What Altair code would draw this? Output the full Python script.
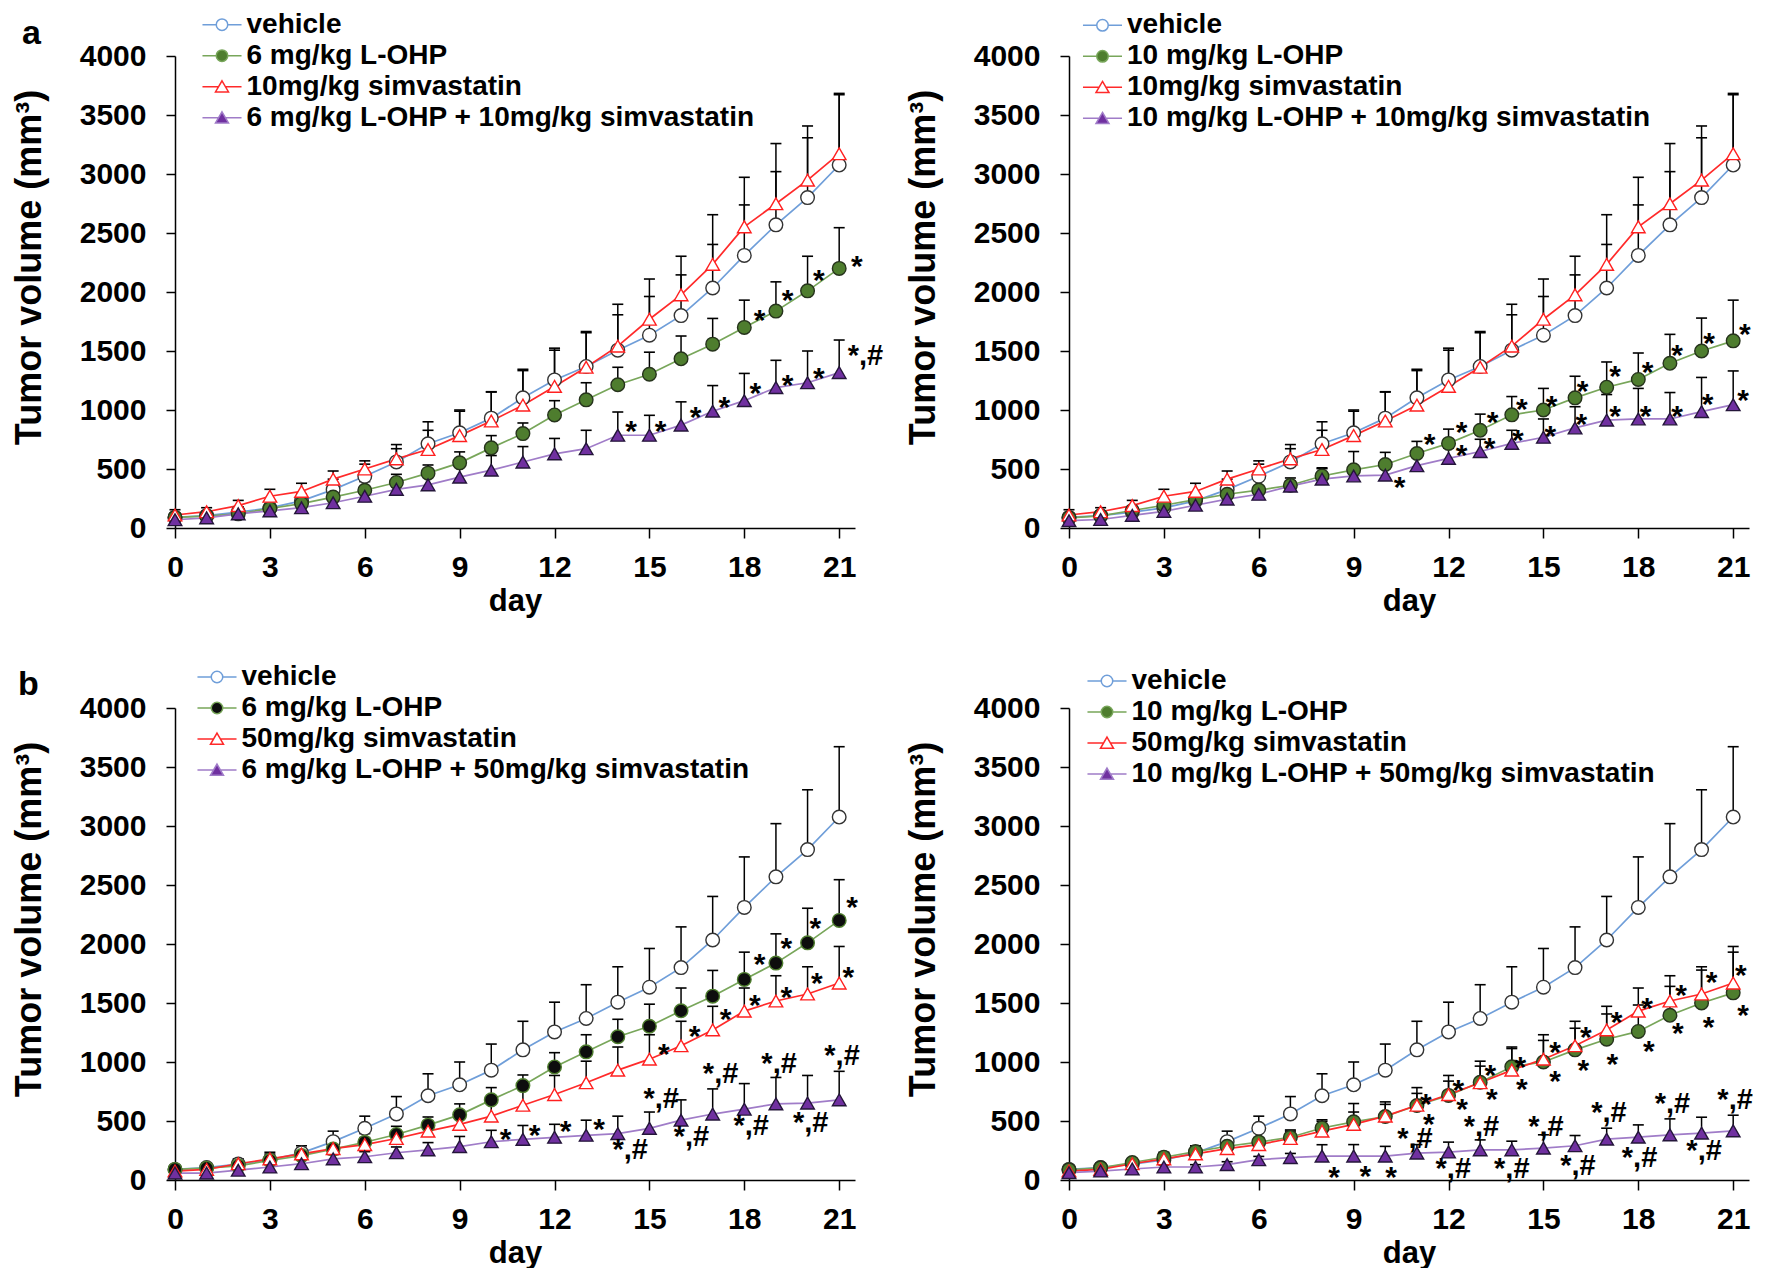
import altair as alt
import pandas as pd

FONT = "Liberation Sans"
DAYS = list(range(22))

# ---------------- series (mean tumor volume, mm^3) and upper error-bar tops ----------------
VEHICLE = [90, 105, 135, 170, 230, 325, 438, 560, 714, 807, 931, 1103, 1255, 1369, 1507, 1634, 1800, 2034, 2310, 2569, 2800, 3076]
VEHICLE_ERR = [115, 140, 180, 235, 290, 414, 541, 707, 900, 1000, 1152, 1345, 1507, 1655, 1807, 1962, 2145, 2403, 2738, 3020, 3307, 3672]

L6 = [90, 100, 120, 165, 207, 262, 320, 386, 465, 552, 679, 800, 958, 1086, 1214, 1303, 1434, 1558, 1700, 1838, 2010, 2200]
L6_ERR = [105, 120, 145, 200, 250, 328, 393, 455, 534, 645, 783, 890, 1079, 1231, 1362, 1490, 1627, 1776, 1931, 2086, 2303, 2545]

L10 = [86, 103, 148, 193, 241, 286, 321, 362, 441, 493, 538, 631, 717, 828, 959, 1000, 1103, 1193, 1259, 1396, 1500, 1586]
L10_ERR = [100, 120, 175, 225, 280, 331, 355, 424, 510, 648, 641, 734, 838, 965, 1114, 1183, 1286, 1407, 1483, 1641, 1779, 1931]

S10 = [110, 138, 190, 269, 310, 414, 500, 586, 665, 783, 907, 1041, 1200, 1362, 1541, 1769, 1976, 2234, 2552, 2748, 2948, 3172]
S10_ERR = [155, 172, 234, 328, 379, 483, 569, 672, 828, 990, 1155, 1334, 1524, 1665, 1896, 2110, 2303, 2655, 2972, 3258, 3407, 3683]

S50 = [76, 90, 138, 179, 221, 266, 300, 352, 414, 472, 541, 634, 724, 824, 931, 1024, 1138, 1272, 1431, 1517, 1576, 1669]
S50_ERR = [95, 110, 170, 220, 265, 317, 359, 414, 497, 576, 662, 783, 886, 1007, 1127, 1231, 1345, 1472, 1627, 1731, 1807, 1979]

L6S10 = [70, 86, 120, 145, 172, 214, 269, 328, 366, 431, 490, 559, 628, 672, 786, 786, 872, 990, 1079, 1190, 1231, 1317]
L6S10_ERR = [85, 100, 140, 170, 205, 276, 338, 403, 448, 534, 614, 690, 759, 828, 983, 955, 1069, 1207, 1310, 1421, 1500, 1593]

L10S10 = [62, 72, 107, 141, 193, 245, 286, 355, 414, 441, 448, 528, 590, 648, 717, 769, 848, 914, 924, 924, 986, 1045]
L10S10_ERR = [75, 88, 130, 170, 225, 280, 325, 400, 503, 500, 517, 610, 676, 752, 828, 924, 1028, 1131, 1183, 1148, 1276, 1331]

L6S50 = [59, 59, 83, 110, 138, 179, 197, 231, 255, 283, 324, 345, 362, 379, 393, 438, 507, 559, 600, 645, 652, 679]
L6S50_ERR = [70, 72, 105, 135, 170, 215, 240, 280, 317, 369, 421, 462, 472, 507, 541, 576, 679, 772, 817, 869, 886, 921]

L10S50 = [62, 76, 93, 110, 110, 131, 172, 190, 203, 203, 203, 228, 237, 256, 256, 270, 290, 346, 363, 383, 397, 417]
L10S50_ERR = [75, 90, 110, 130, 130, 155, 200, 225, 299, 300, 285, 300, 321, 340, 329, 383, 377, 439, 467, 518, 532, 549]

# ---------------- legend labels ----------------
LABELS_A1 = ["vehicle", "6 mg/kg L-OHP", "10mg/kg simvastatin", "6 mg/kg L-OHP + 10mg/kg simvastatin"]
LABELS_A2 = ["vehicle", "10 mg/kg L-OHP", "10mg/kg simvastatin", "10 mg/kg L-OHP + 10mg/kg simvastatin"]
LABELS_B1 = ["vehicle", "6 mg/kg L-OHP", "50mg/kg simvastatin", "6 mg/kg L-OHP + 50mg/kg simvastatin"]
LABELS_B2 = ["vehicle", "10 mg/kg L-OHP", "50mg/kg simvastatin", "10 mg/kg L-OHP + 50mg/kg simvastatin"]

# ---------------- significance marks: x (day), y (mm^3), text ----------------
ANN_A1_X = [18.48, 19.37, 20.36, 21.56, 14.42, 15.35, 16.46, 17.37, 18.35, 19.37, 20.36, 21.83]
ANN_A1_Y = [1820, 1993, 2165, 2276, 879, 879, 1000, 1086, 1207, 1269, 1334, 1465]
ANN_A1_T = ["*"] * 11 + ["*,#"]

ANN_A2_X = [11.40, 12.41, 13.39, 14.32, 15.26, 16.24, 17.27, 18.29, 19.23, 20.24, 21.37,
            10.45, 12.41, 13.30, 14.19, 15.22, 16.20, 17.27, 18.23, 19.23, 20.19, 21.31]
ANN_A2_Y = [769, 872, 959, 1069, 1096, 1217, 1345, 1379, 1527, 1631, 1700,
            407, 682, 734, 803, 837, 940, 1009, 1009, 1009, 1113, 1147]
ANN_A2_T = ["*"] * 22

ANN_B1_X = [18.48, 19.33, 20.25, 21.41,
            15.46, 16.43, 17.41, 18.33, 19.33, 20.29, 21.29,
            10.45, 11.37, 12.35, 13.41,
            14.39, 15.37, 16.33, 17.25, 18.22, 19.10, 20.10, 21.09]
ANN_B1_Y = [1886, 2024, 2196, 2369,
            1127, 1283, 1421, 1541, 1610, 1731, 1783,
            403, 438, 472, 490,
            265, 696, 369, 903, 462, 990, 490, 1059]
ANN_B1_T = ["*"] * 15 + ["*,#"] * 8

ANN_B2_X = [8.38, 9.37, 10.18,
            10.94, 12.15, 13.04, 14.00, 15.08, 16.09, 17.07, 18.04, 19.08, 20.08, 21.06,
            11.28, 12.31, 13.32, 14.27, 15.37, 16.34, 17.31, 18.28, 19.35, 20.32, 21.24,
            11.38, 12.43, 13.37, 14.32, 15.37, 16.26, 17.18, 18.33, 19.25, 20.22, 21.31]
ANN_B2_Y = [87, 96, 87,
            355, 98, 459, 103, 459, 131, 579, 199, 655, 253, 684,
            707, 819, 946, 1016, 1143, 1270, 1397, 1515, 1628, 1740, 1797,
            538, 665, 743, 834, 896, 988, 1045, 1149, 1307, 1354, 1459]
ANN_B2_T = ["*"] * 3 + ["*,#"] * 11 + ["*"] * 22

# ---------------- styles ----------------
LINE_COLORS = ["#6f9ed9", "#78a65a", "#ff2a2a", "#a07cc8"]
FILL_STD = ["#ffffff", "#4e7d2e", "#ffffff", "#7030a0"]
FILL_BLACK = ["#ffffff", "#0d0d0d", "#ffffff", "#7030a0"]
STROKE_STD = ["#333333", "#26331c", "#ff2020", "#24163a"]
STROKE_BLACK = ["#333333", "#4e7d2e", "#ff2020", "#24163a"]
SHAPES = ["circle", "circle", "triangle-up", "triangle-up"]

# legend glyphs: a short line with the marker in the middle
CIRC = "M-1.26,0L-0.37,0M0.37,0L1.26,0M-0.37,0A0.37,0.37,0,1,0,0.37,0A0.37,0.37,0,1,0,-0.37,0Z"
TRI = "M-1.26,0L-0.22,0M0.22,0L1.26,0M0,-0.38L0.42,0.34L-0.42,0.34Z"
LEG_SHAPES = [CIRC, CIRC, TRI, TRI]

W, H = 680, 472


def make_panel(labels, series, errors, fills, strokes, ann_x, ann_y, ann_t,
               leg_x, leg_y, title=None, title_dx=0, title_offset=0, title_dy=0):
    rows = []
    for k, (lab, vals, errs) in enumerate(zip(labels, series, errors)):
        for d, v, e in zip(DAYS, vals, errs):
            rows.append({"day": d, "value": v, "err": e, "series": lab, "k": k})
    df = pd.DataFrame(rows)
    ann = pd.DataFrame({"x": ann_x, "y": ann_y, "t": ann_t})
    legdf = pd.DataFrame({"series": labels})

    xs = alt.Scale(domain=[0, 21.5], nice=False, zero=False)
    ys = alt.Scale(domain=[0, 4000], nice=False, zero=False)
    xaxis = alt.Axis(values=list(range(0, 22, 3)), title="day", labelFlush=False, labelOverlap=False)
    yaxis = alt.Axis(values=list(range(0, 4001, 500)), title="Tumor volume (mm³)", format="d",
                     labelFlush=False, labelOverlap=False, titleY=H / 2 - 25)

    legend = alt.Legend(
        orient="none", legendX=leg_x, legendY=leg_y, title=None, padding=0,
        labelFont=FONT, labelFontSize=28, labelFontWeight="bold", labelColor="black",
        labelLimit=2000, labelOffset=8, symbolSize=961, symbolStrokeWidth=1.5, rowPadding=0,
    )

    base = alt.Chart(df)
    X = alt.X("day:Q", scale=xs, axis=xaxis)
    Y = alt.Y("value:Q", scale=ys, axis=yaxis)

    rule = base.mark_rule(color="black", strokeWidth=1.5).encode(x=X, y=Y, y2="err:Q")
    cap = base.mark_tick(color="black", orient="horizontal", size=11, thickness=1.6, opacity=1).encode(
        x=X, y=alt.Y("err:Q", scale=ys, axis=yaxis))
    line = base.mark_line(strokeWidth=1.7).encode(
        x=X, y=Y,
        color=alt.Color("series:N", scale=alt.Scale(domain=labels, range=LINE_COLORS), legend=None),
    )
    pts = base.mark_point(filled=True, size=185, strokeWidth=1.4, opacity=1).encode(
        x=X, y=Y,
        shape=alt.Shape("series:N", scale=alt.Scale(domain=labels, range=SHAPES), legend=None),
        fill=alt.Fill("series:N", scale=alt.Scale(domain=labels, range=fills), legend=None),
        stroke=alt.Stroke("series:N", scale=alt.Scale(domain=labels, range=strokes), legend=None),
        order=alt.Order("k:Q"),
    )
    # legend-only layer (draws no marks): line + marker glyphs
    leg = alt.Chart(legdf).transform_filter("false").mark_point(
        filled=True, opacity=1, strokeWidth=1.5).encode(
        shape=alt.Shape("series:N", scale=alt.Scale(domain=labels, range=LEG_SHAPES), legend=legend),
        fill=alt.Fill("series:N", scale=alt.Scale(domain=labels, range=fills), legend=legend),
        stroke=alt.Stroke("series:N", scale=alt.Scale(domain=labels, range=LINE_COLORS), legend=legend),
    )
    annb = alt.Chart(ann)
    star = annb.transform_filter("datum.t == '*'").mark_text(
        font=FONT, fontSize=30, fontWeight="bold", color="black", baseline="alphabetic",
        align="center", dy=17).encode(
        x=alt.X("x:Q", scale=xs, axis=xaxis), y=alt.Y("y:Q", scale=ys, axis=yaxis), text="t:N")
    starhash = annb.transform_filter("datum.t == '*,#'").mark_text(
        font=FONT, fontSize=29, fontWeight="bold", color="black", baseline="alphabetic",
        align="center", dy=10).encode(
        x=alt.X("x:Q", scale=xs, axis=xaxis), y=alt.Y("y:Q", scale=ys, axis=yaxis), text="t:N")

    layer = alt.layer(rule, cap, line, pts, leg, star, starhash).resolve_scale(
        shape="independent", fill="independent", stroke="independent")
    props = dict(width=W, height=H)
    if title:
        props["title"] = alt.TitleParams(text=title, anchor="start", frame="group", font=FONT,
                                         fontSize=34, fontWeight="bold", color="black",
                                         baseline="alphabetic", dx=title_dx, dy=title_dy,
                                         offset=title_offset)
    return layer.properties(**props)


pA1 = make_panel(LABELS_A1, [VEHICLE, L6, S10, L6S10], [VEHICLE_ERR, L6_ERR, S10_ERR, L6S10_ERR],
                 FILL_STD, STROKE_STD, ANN_A1_X, ANN_A1_Y, ANN_A1_T, 30.5, -47.8,
                 title="a", title_dx=-153, title_offset=-21.5, title_dy=48.4)
pA2 = make_panel(LABELS_A2, [VEHICLE, L10, S10, L10S10], [VEHICLE_ERR, L10_ERR, S10_ERR, L10S10_ERR],
                 FILL_STD, STROKE_STD, ANN_A2_X, ANN_A2_Y, ANN_A2_T, 17, -47.2)
pB1 = make_panel(LABELS_B1, [VEHICLE, L6, S50, L6S50], [VEHICLE_ERR, L6_ERR, S50_ERR, L6S50_ERR],
                 FILL_BLACK, STROKE_BLACK, ANN_B1_X, ANN_B1_Y, ANN_B1_T, 25.5, -47.5,
                 title="b", title_dx=-157, title_offset=-35.5, title_dy=33)
pB2 = make_panel(LABELS_B2, [VEHICLE, L10, S50, L10S50], [VEHICLE_ERR, L10_ERR, S50_ERR, L10S50_ERR],
                 FILL_STD, STROKE_STD, ANN_B2_X, ANN_B2_Y, ANN_B2_T, 21.5, -43.5)

chart = alt.concat(pA1, pA2, pB1, pB2, columns=2, spacing={"row": 180, "column": 214}, bounds="flush")
chart = chart.resolve_scale(color="independent", fill="independent", stroke="independent",
                            shape="independent", x="independent", y="independent")
chart = chart.properties(padding={"left": 3, "top": 0, "right": 0, "bottom": 0})
chart = chart.configure_view(stroke=None).configure_axis(
    labelFont=FONT, labelFontSize=30, labelFontWeight="bold", labelColor="black",
    titleFont=FONT, titleFontWeight="bold", titleColor="black",
    domainColor="black", domainWidth=1.5, tickColor="black", tickWidth=1.5, grid=False,
).configure_axisX(tickSize=10, labelPadding=14, titleFontSize=31, titlePadding=4
).configure_axisY(tickSize=9, labelPadding=20, titleFontSize=36, titlePadding=31)

chart.save("out.html", embed_options={"renderer": "svg", "actions": False})
